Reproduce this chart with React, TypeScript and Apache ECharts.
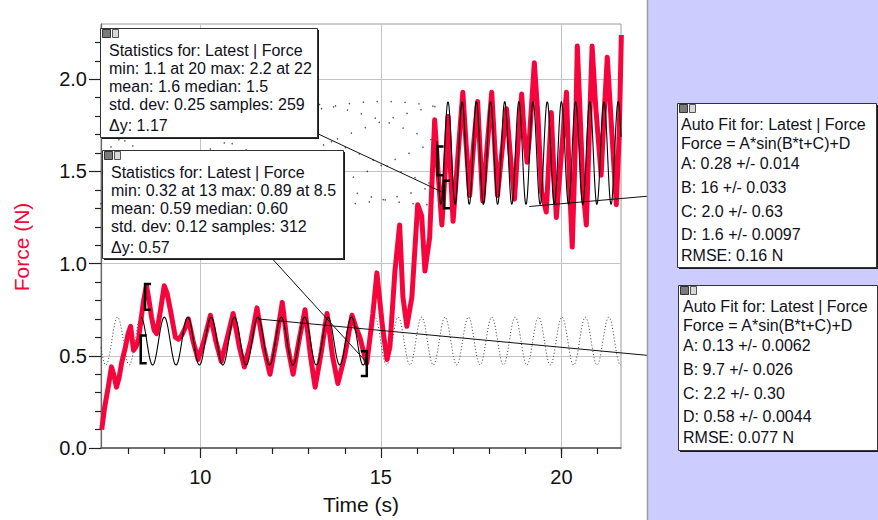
import React, { useEffect, useRef } from 'react';
import * as echarts from 'echarts';

const timeS = [
  7.27, 7.35, 7.45, 7.54, 7.6, 7.68, 7.75, 7.82, 7.93, 8.0, 8.07, 8.15, 8.22, 8.29, 8.36, 8.43, 8.51, 8.58, 8.65, 8.72,
  8.79, 8.9, 9.0, 9.08, 9.17, 9.31, 9.4, 9.48, 9.58, 9.67, 9.8, 9.94, 10.1, 10.28, 10.43, 10.58, 10.75, 10.91, 11.08, 11.22,
  11.4, 11.57, 11.75, 11.93, 12.1, 12.27, 12.42, 12.57, 12.73, 12.9, 13.05, 13.18, 13.35, 13.51, 13.66, 13.81, 14.0, 14.2, 14.3, 14.42,
  14.55, 14.61, 14.7, 14.78, 14.89, 14.97, 15.05, 15.17, 15.25, 15.39, 15.52, 15.61, 15.72, 15.86, 16.02, 16.13, 16.22, 16.35, 16.49, 16.6,
  16.69, 16.78, 16.86, 16.93, 17.0, 17.14, 17.27, 17.36, 17.46, 17.57, 17.68, 17.75, 17.82, 17.95, 18.07, 18.15, 18.23, 18.35, 18.48, 18.6,
  18.7, 18.8, 18.9, 18.97, 19.05, 19.12, 19.25, 19.35, 19.45, 19.58, 19.65, 19.72, 19.79, 19.86, 20.0, 20.14, 20.22, 20.3, 20.38, 20.44,
  20.52, 20.6, 20.69, 20.77, 20.85, 20.95, 21.1, 21.18, 21.27, 21.4, 21.52, 21.6, 21.66,
];
const forceN = [
  0.1, 0.22, 0.33, 0.44, 0.4, 0.33, 0.38, 0.46, 0.55, 0.62, 0.66, 0.53, 0.55, 0.59, 0.7, 0.8, 0.88, 0.8, 0.71, 0.64,
  0.62, 0.75, 0.88, 0.84, 0.75, 0.6, 0.59, 0.61, 0.65, 0.7, 0.58, 0.48, 0.58, 0.72, 0.58, 0.47, 0.6, 0.73, 0.55, 0.44,
  0.58, 0.76, 0.55, 0.4, 0.58, 0.79, 0.55, 0.4, 0.58, 0.75, 0.5, 0.33, 0.52, 0.73, 0.5, 0.35, 0.5, 0.72, 0.66, 0.6,
  0.5, 0.46, 0.6, 0.73, 0.95, 0.8, 0.65, 0.48, 0.55, 0.96, 1.21, 0.82, 0.66, 0.82, 1.32, 1.26, 0.96, 1.14, 1.78, 1.45,
  1.21, 1.5, 1.8, 1.5, 1.23, 1.6, 1.93, 1.65, 1.37, 1.65, 1.88, 1.6, 1.34, 1.65, 1.93, 1.65, 1.37, 1.6, 1.84, 1.55,
  1.35, 1.65, 1.92, 1.7, 1.55, 1.7, 2.09, 1.8, 1.39, 1.28, 1.55, 1.82, 1.5, 1.25, 1.6, 1.93, 1.45, 1.09, 1.6, 2.18,
  1.8, 1.4, 1.21, 1.7, 2.18, 1.85, 1.48, 1.8, 2.12, 1.7, 1.32, 1.7, 2.24,
];

// ---- sine fits printed in the boxes: [A, B, C, D] of A*sin(B*t+C)+D ----
const highFitParams = [0.28, 16, 2.0, 1.6];
const highFitRange = [16.55, 21.65];
const lowFitParams = [0.13, 9.7, 2.2, 0.58];
const lowFitRange = [8.36, 14.6];

// ---- axes ----
const xRange = [7.25, 21.65];
const yRange = [0, 2.3];
const xMajorTicks = [10, 15, 20];
const xMinorTicks = [8, 9, 11, 12, 13, 14, 16, 17, 18, 19, 20, 21];
const yMajorTicks = [0, 0.5, 1.0, 1.5, 2.0];
const yMinorTicks = [0.1, 0.2, 0.3, 0.4, 0.6, 0.7, 0.8, 0.9, 1.1, 1.2, 1.3, 1.4, 1.6, 1.7, 1.8, 1.9, 2.1, 2.2];
const xTitle = 'Time (s)';
const yTitle = 'Force (N)';

// ---- range brackets: [t, lowF, highF, direction (1 = "[", -1 = "]")] ----
const brackets = [
  [8.47, 0.75, 0.89, 1],
  [8.35, 0.46, 0.61, 1],
  [14.61, 0.39, 0.525, -1],
  [16.57, 1.48, 1.635, 1],
  [16.75, 1.3, 1.45, 1],
];

// ---- annotation texts ----
const statsHighLines = [
  'Statistics for: Latest | Force',
  'min: 1.1 at 20 max: 2.2 at 22',
  'mean: 1.6 median: 1.5',
  'std. dev: 0.25 samples: 259',
  'Δy: 1.17',
];
const statsLowLines = [
  'Statistics for: Latest | Force',
  'min: 0.32 at 13 max: 0.89 at 8.5',
  'mean: 0.59 median: 0.60',
  'std. dev: 0.12 samples: 312',
  'Δy: 0.57',
];
const fitHighLines = [
  'Auto Fit for: Latest | Force',
  'Force = A*sin(B*t+C)+D',
  'A: 0.28 +/- 0.014',
  'B: 16 +/- 0.033',
  'C: 2.0 +/- 0.63',
  'D: 1.6 +/- 0.0097',
  'RMSE: 0.16 N',
];
const fitLowLines = [
  'Auto Fit for: Latest | Force',
  'Force = A*sin(B*t+C)+D',
  'A: 0.13 +/- 0.0062',
  'B: 9.7 +/- 0.026',
  'C: 2.2 +/- 0.30',
  'D: 0.58 +/- 0.0044',
  'RMSE: 0.077 N',
];
// anchor points (data coords) of leader lines
const statsHighAnchor = [16.68, 1.39];
const statsLowAnchor = [14.58, 0.47];
const fitHighAnchor = [19.11, 1.31];
const fitLowAnchor = [11.6, 0.7];

const FONT = '"Liberation Sans", Arial, sans-serif';
const RED = '#f5053c';

function sampleFit(p: number[], from: number, to: number, step: number) {
  const out: number[][] = [];
  const n = Math.round((to - from) / step);
  for (let i = 0; i <= n; i++) {
    const t = from + (i * (to - from)) / n;
    out.push([t, p[0] * Math.sin(p[1] * t + p[2]) + p[3]]);
  }
  return out;
}

function makeBox(x: number, y: number, w: number, h: number, lines: string[], offs: number[], tx: number, z: number) {
  const els: any[] = [
    { type: 'rect', z, shape: { x: x + 2, y: y + 2, width: w, height: h }, style: { fill: '#1a1a1a' } },
    { type: 'rect', z: z + 1, shape: { x: x + 0.5, y: y + 0.5, width: w, height: h }, style: { fill: '#ffffff', stroke: '#333', lineWidth: 1 } },
    { type: 'rect', z: z + 2, shape: { x: x + 2.5, y: y + 1.5, width: 8, height: 8 }, style: { fill: '#7a7a7a', stroke: '#333', lineWidth: 1 } },
    { type: 'rect', z: z + 2, shape: { x: x + 12.5, y: y + 1.5, width: 6, height: 8 }, style: { fill: '#d8d8d8', stroke: '#555', lineWidth: 1 } },
  ];
  lines.forEach((s, i) => {
    els.push({
      type: 'text', z: z + 3,
      style: { text: s, x: x + tx, y: y + offs[i], fill: '#101020', font: `16px ${FONT}`, verticalAlign: 'middle', align: 'left' },
    });
  });
  return els;
}

export default function App() {
  const ref = useRef<HTMLDivElement>(null);
  useEffect(() => {
    if (!ref.current) return;
    const chart = echarts.init(ref.current, null, { renderer: 'svg' });

    const highFit = sampleFit(highFitParams, highFitRange[0], highFitRange[1], 0.01);
    const lowFit = sampleFit(lowFitParams, lowFitRange[0], lowFitRange[1], 0.01);
    const highDots = sampleFit(highFitParams, xRange[0], highFitRange[0], 0.055);
    const lowDotsLeft = sampleFit(lowFitParams, xRange[0], lowFitRange[0], 0.01);
    const lowDotsRight = sampleFit(lowFitParams, lowFitRange[1], xRange[1], 0.01);

    const axisCommon = { type: 'value', splitLine: { show: false } };
    const dottedLine = { color: '#333', width: 1, type: [1, 2.2] };
    const option: any = {
      animation: false,
      backgroundColor: '#ffffff',
      grid: { left: 101, top: 24, width: 520, height: 429, show: true, borderColor: '#9a9a9a', borderWidth: 1, backgroundColor: 'transparent' },
      xAxis: [
        {
          ...axisCommon, min: xRange[0], max: xRange[1], position: 'bottom',
          axisLine: { show: true, lineStyle: { color: '#555', width: 1.5 } },
          axisTick: { show: true, customValues: xMajorTicks, length: 10, lineStyle: { color: '#222', width: 1.2 } },
          axisLabel: { customValues: xMajorTicks, fontSize: 20, color: '#111', margin: 19, fontFamily: FONT },
          name: xTitle, nameLocation: 'middle', nameGap: 46,
          nameTextStyle: { fontSize: 21, color: '#111', fontFamily: FONT },
        },
        {
          ...axisCommon, min: xRange[0], max: xRange[1], position: 'bottom',
          axisLine: { show: false },
          axisTick: { show: true, customValues: xMinorTicks, length: 6, lineStyle: { color: '#222', width: 1.2 } },
          axisLabel: { show: false },
        },
      ],
      yAxis: [
        {
          ...axisCommon, min: yRange[0], max: yRange[1], position: 'left',
          axisLine: { show: true, lineStyle: { color: '#666', width: 1.2 } },
          axisTick: { show: true, customValues: yMajorTicks, length: 12, lineStyle: { color: '#222', width: 1.2 } },
          axisLabel: { customValues: yMajorTicks, fontSize: 20, color: '#111', margin: 14, fontFamily: FONT, formatter: (v: number) => v.toFixed(1) },
        },
        {
          ...axisCommon, min: yRange[0], max: yRange[1], position: 'left',
          axisLine: { show: false },
          axisTick: { show: true, customValues: yMinorTicks, length: 6, lineStyle: { color: '#222', width: 1.2 } },
          axisLabel: { show: false },
        },
      ],
      series: [
        {
          type: 'line', data: [], z: 0, silent: true,
          markLine: {
            z: 0, silent: true, symbol: 'none', label: { show: false },
            lineStyle: { color: '#c4c4c4', width: 1, type: 'solid' },
            data: [...xMajorTicks.map((v) => ({ xAxis: v })), ...yMajorTicks.filter((v) => v > 0).map((v) => ({ yAxis: v }))],
          },
        },
        { type: 'scatter', data: highDots, symbolSize: 1.5, itemStyle: { color: '#222' }, z: 1, silent: true },
        { type: 'line', data: lowDotsLeft, symbol: 'none', lineStyle: dottedLine, z: 1, silent: true },
        { type: 'line', data: lowDotsRight, symbol: 'none', lineStyle: dottedLine, z: 1, silent: true },
        {
          type: 'line', data: timeS.map((t, i) => [t, forceN[i]]), showSymbol: false, symbol: 'none',
          lineStyle: { color: RED, width: 5, join: 'round' }, z: 3, silent: true,
        },
        { type: 'line', data: highFit, symbol: 'none', lineStyle: { color: '#000', width: 1.1 }, z: 4, silent: true },
        { type: 'line', data: lowFit, symbol: 'none', lineStyle: { color: '#000', width: 1.1 }, z: 4, silent: true },
        {
          type: 'custom', z: 5, silent: true, clip: false, data: brackets,
          renderItem: (_p: any, api: any) => {
            const t = api.value(0);
            const top = api.coord([t, api.value(2)]);
            const bot = api.coord([t, api.value(1)]);
            const s = 6 * api.value(3);
            return {
              type: 'polyline',
              shape: { points: [[top[0] + s, top[1]], [top[0], top[1]], [bot[0], bot[1]], [bot[0] + s, bot[1]]] },
              style: { stroke: '#000', lineWidth: 2.5, fill: 'none' },
            };
          },
        },
      ],
    };
    chart.setOption(option);

    const px = (p: number[]) => chart.convertToPixel({ xAxisIndex: 0, yAxisIndex: 0 }, p) as number[];
    const boxes = {
      sh: [100, 28, 217, 109],
      sl: [102, 150, 241, 108],
      fh: [677, 103, 199, 164],
      fl: [678, 285, 199, 165],
    };
    const center = (b: number[]) => [b[0] + b[2] / 2, b[1] + b[3] / 2];
    const leader = (from: number[], to: number[], z: number) => ({
      type: 'line', z, silent: true,
      shape: { x1: from[0], y1: from[1], x2: to[0], y2: to[1] },
      style: { stroke: '#111', lineWidth: 1 },
    });
    const statOffs = [22, 40, 58, 76, 97];
    const fitOffs = [21, 40, 60, 84, 108, 131, 152];

    const graphic: any[] = [
      {
        type: 'text', z: 40, silent: true, x: 21, y: 247, rotation: Math.PI / 2,
        style: { text: yTitle, fill: RED, font: `21px ${FONT}`, align: 'center', verticalAlign: 'middle' },
      },
      leader(center(boxes.sh), px(statsHighAnchor), 50),
      leader(center(boxes.sl), px(statsLowAnchor), 50),
      leader(center(boxes.fh), px(fitHighAnchor), 50),
      leader(center(boxes.fl), px(fitLowAnchor), 50),
      ...makeBox(boxes.sh[0], boxes.sh[1], boxes.sh[2], boxes.sh[3], statsHighLines, statOffs, 9, 60),
      ...makeBox(boxes.sl[0], boxes.sl[1], boxes.sl[2], boxes.sl[3], statsLowLines, statOffs, 9, 60),
      { type: 'rect', z: 80, silent: true, shape: { x: 647, y: 0, width: 231, height: 520 }, style: { fill: '#ccccff' } },
      { type: 'line', z: 81, silent: true, shape: { x1: 647.5, y1: 0, x2: 647.5, y2: 520 }, style: { stroke: '#9a9aa8', lineWidth: 1.5 } },
      ...makeBox(boxes.fh[0], boxes.fh[1], boxes.fh[2], boxes.fh[3], fitHighLines, fitOffs, 4, 90),
      ...makeBox(boxes.fl[0], boxes.fl[1], boxes.fl[2], boxes.fl[3], fitLowLines, fitOffs, 5, 90),
    ];
    chart.setOption({ graphic });

    return () => chart.dispose();
  }, []);
  return <div ref={ref} style={{ position: 'absolute', left: 0, top: 0, width: 878, height: 520 }} />;
}
